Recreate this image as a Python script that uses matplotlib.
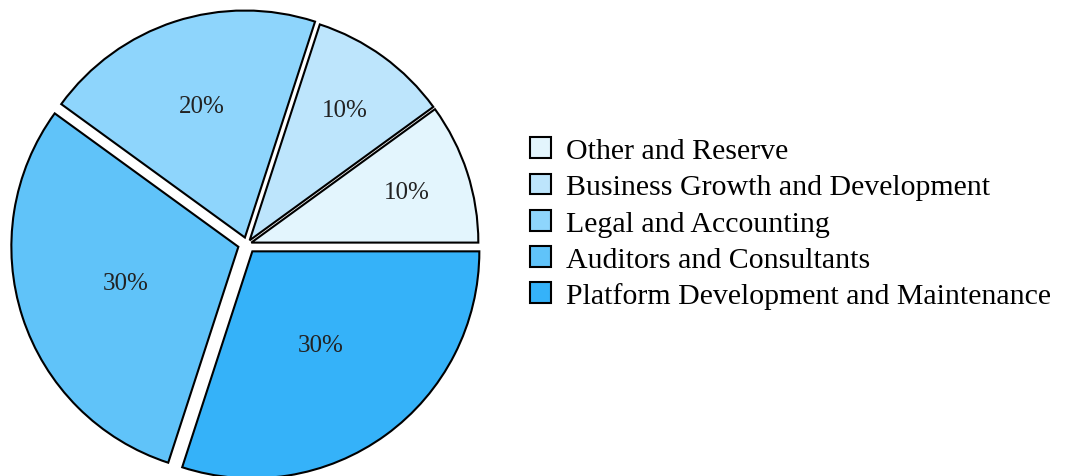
import numpy as np
import matplotlib
matplotlib.use("Agg")
import matplotlib.pyplot as plt

labels = ["Other and Reserve", "Business Growth and Development", "Legal and Accounting",
          "Auditors and Consultants", "Platform Development and Maintenance"]
shares = [10, 10, 20, 30, 30]
colors = ["#E3F5FD", "#BDE5FC", "#8ED5FC", "#60C3F9", "#35B2F9"]
explode = [0.02, 0.02, 0.03, 0.04, 0.04]
label_r = [0.72, 0.71, 0.61, 0.52, 0.51]

plt.rcParams["font.family"] = ["Liberation Serif", "DejaVu Serif"]

fig = plt.figure(figsize=(10.77, 4.77), dpi=100)
R = 227
cx, cy = 247, 477 - 245
ax = fig.add_axes([(cx - 1.06 * R) / 1077, (cy - 1.06 * R) / 477,
                   2.12 * R / 1077, 2.12 * R / 477])

wedges, texts = ax.pie(shares, colors=colors, explode=explode, startangle=0,
                       counterclock=True,
                       wedgeprops=dict(edgecolor="black", linewidth=1.5))

# percentage labels, placed along each wedge's middle angle
total = sum(shares)
start = 0
for i, s in enumerate(shares):
    mid = np.deg2rad(360 * (start + s / 2) / total)
    r = explode[i] + label_r[i]
    ax.text(r * np.cos(mid), r * np.sin(mid), f"{s}%", ha="center", va="center",
            fontsize=18, color="#222222")
    start += s

ax.set_xlim(-1.06, 1.06)
ax.set_ylim(-1.06, 1.06)
ax.set_aspect("equal")
ax.axis("off")

fig.legend(wedges, labels, loc="center left", bbox_to_anchor=(0.492, 0.53),
           frameon=False, fontsize=21.5, handlelength=0.7, handleheight=0.7,
           handletextpad=0.5, labelspacing=0.31, borderaxespad=0, borderpad=0)

fig.savefig("out.png", dpi=100)
